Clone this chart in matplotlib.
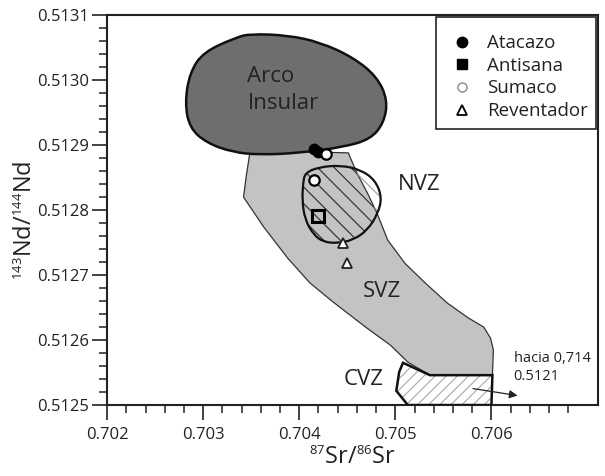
import matplotlib
matplotlib.use('Agg')
import matplotlib.pyplot as plt
import matplotlib._mathtext as mathtext_internal
from matplotlib.patches import Polygon, PathPatch
from matplotlib.path import Path
from matplotlib.lines import Line2D
from matplotlib.ticker import FixedLocator

plt.rcParams['font.family'] = ['Open Sans', 'DejaVu Sans']
plt.rcParams['mathtext.fontset'] = 'custom'
plt.rcParams['mathtext.rm'] = 'Open Sans'
plt.rcParams['mathtext.it'] = 'Open Sans:italic'
plt.rcParams['hatch.linewidth'] = 0.8
# smaller isotope superscripts, like the original figure
mathtext_internal.SHRINK_FACTOR = 0.55

# fields (87Sr/86Sr, 143Nd/144Nd)
arco_sr = [0.70281, 0.70286, 0.70300, 0.70335, 0.70349, 0.70388, 0.70422, 0.70456, 0.70481,
           0.70492, 0.70488, 0.70474, 0.70446, 0.70401, 0.70359, 0.70331, 0.70304, 0.70286]
arco_nd = [0.512965, 0.513011, 0.513043, 0.513066, 0.513071, 0.513069, 0.513058, 0.513035, 0.513005,
           0.512969, 0.512934, 0.512909, 0.512897, 0.512888, 0.512885, 0.512889, 0.512903, 0.512926]

svz_sr = [0.70349, 0.70345, 0.70342, 0.70363, 0.70388, 0.70411, 0.70434, 0.70469, 0.70495, 0.70513, 0.70536,
          0.70601, 0.70602, 0.70599, 0.70592, 0.70576, 0.70554, 0.70531, 0.70510, 0.70492, 0.70481,
          0.70471, 0.70460, 0.70451]
svz_nd = [0.512892, 0.512854, 0.512820, 0.512774, 0.512726, 0.512688, 0.512660, 0.512620, 0.512592, 0.512566, 0.512546,
          0.512546, 0.512585, 0.512603, 0.512620, 0.512634, 0.512657, 0.512688, 0.512718, 0.512754, 0.512795,
          0.512826, 0.512857, 0.512888]

nvz_sr = [0.70406, 0.70420, 0.70443, 0.70464, 0.70479, 0.70486, 0.70482, 0.70471, 0.70456, 0.70440,
          0.70425, 0.70415, 0.70406, 0.70403, 0.70404]
nvz_nd = [0.512857, 0.512866, 0.512869, 0.512862, 0.512846, 0.512820, 0.512795, 0.512769, 0.512754, 0.512749,
          0.512751, 0.512762, 0.512785, 0.512815, 0.512842]

cvz_sr = [0.70508, 0.70536, 0.70601, 0.70600, 0.70513, 0.70501, 0.70504]
cvz_nd = [0.512565, 0.512546, 0.512546, 0.5125, 0.5125, 0.512522, 0.512551]

# samples
atacazo_sr = [0.70415, 0.70420]
atacazo_nd = [0.512894, 0.512889]
antisana_sr = [0.70420]
antisana_nd = [0.512791]
sumaco_sr = [0.70428, 0.70415]
sumaco_nd = [0.512886, 0.512846]
reventador_sr = [0.70446, 0.70450]
reventador_nd = [0.512749, 0.512718]


def smooth_patch(xs, ys, **kw):
    # closed quadratic b-spline through the outline points
    pts = list(zip(xs, ys))
    n = len(pts)
    mids = [((pts[i][0] + pts[(i + 1) % n][0]) / 2, (pts[i][1] + pts[(i + 1) % n][1]) / 2) for i in range(n)]
    verts = [mids[-1]]
    codes = [Path.MOVETO]
    for i in range(n):
        verts += [pts[i], mids[i]]
        codes += [Path.CURVE3, Path.CURVE3]
    verts.append(mids[-1])
    codes.append(Path.CLOSEPOLY)
    return PathPatch(Path(verts, codes), **kw)


fig = plt.figure(figsize=(6.05, 4.76), dpi=100)
ax = fig.add_axes([0.177, 0.149, 0.8116, 0.8193])

tc = '#222222'

svz = Polygon(list(zip(svz_sr, svz_nd)), closed=True, facecolor='#c3c3c3', edgecolor='#333333', lw=0.9, zorder=1)
ax.add_patch(svz)

# NVZ hatch: light outside SVZ, dark inside it
nvz_light = smooth_patch(nvz_sr, nvz_nd, fill=False, hatch='\\\\', edgecolor='#9a9a9a', lw=0, zorder=2)
ax.add_patch(nvz_light)
nvz_dark = smooth_patch(nvz_sr, nvz_nd, fill=False, hatch='\\\\', edgecolor='#333333', lw=0, zorder=2.1)
ax.add_patch(nvz_dark)
nvz_dark.set_clip_path(svz)
ax.add_patch(smooth_patch(nvz_sr, nvz_nd, fill=False, edgecolor='#111111', lw=1.6, zorder=3))

ax.add_patch(Polygon(list(zip(cvz_sr, cvz_nd)), closed=True, facecolor='white', hatch='///',
                     edgecolor='#a8a8a8', lw=0, zorder=2))
ax.add_patch(Polygon(list(zip(cvz_sr, cvz_nd)), closed=True, fill=False, edgecolor='#111111', lw=1.8, zorder=3))

ax.add_patch(smooth_patch(arco_sr, arco_nd, facecolor='#6e6e6e', edgecolor='#111111', lw=1.8, zorder=4))

ax.plot(atacazo_sr, atacazo_nd, 'o', ms=7.5, mfc='black', mec='black', zorder=6)
ax.plot(sumaco_sr, sumaco_nd, 'o', ms=7.5, mfc='white', mec='black', mew=1.6, zorder=7)
ax.plot(antisana_sr, antisana_nd, 's', ms=8, mfc='none', mec='black', mew=2.2, zorder=6)
ax.plot(reventador_sr, reventador_nd, '^', ms=7, mfc='white', mec='#222222', mew=1.3, zorder=6)

ax.text(0.70346, 0.512985, 'Arco\nInsular', fontsize=16, color=tc, ha='left', va='center', linespacing=1.35, zorder=8)
ax.text(0.70503, 0.51284, 'NVZ', fontsize=16, color=tc, ha='left', va='center', zorder=8)
ax.text(0.70466, 0.512674, 'SVZ', fontsize=16, color=tc, ha='left', va='center', zorder=8)
ax.text(0.70446, 0.512539, 'CVZ', fontsize=16, color=tc, ha='left', va='center', zorder=8)
ax.text(0.70623, 0.512558, 'hacia 0,714\n0.5121', fontsize=10.5, color=tc, ha='left', va='center', linespacing=1.3, zorder=8)
ax.annotate('', xy=(0.70630, 0.512514), xytext=(0.70578, 0.512526),
            arrowprops=dict(arrowstyle='-|>', color='#222222', lw=0.9, mutation_scale=12), zorder=8)

handles = [
    Line2D([], [], ls='none', marker='o', ms=7.5, mfc='black', mec='black'),
    Line2D([], [], ls='none', marker='s', ms=7, mfc='black', mec='black'),
    Line2D([], [], ls='none', marker='o', ms=6.5, mfc='white', mec='#888888', mew=1),
    Line2D([], [], ls='none', marker='^', ms=7, mfc='white', mec='black', mew=1.3),
]
leg = ax.legend(handles, ['Atacazo', 'Antisana', 'Sumaco', 'Reventador'], loc='upper right',
                borderaxespad=0.1, fancybox=False, framealpha=1, edgecolor='#222222', fontsize=13.5,
                handlelength=1.85, handletextpad=0.4, labelspacing=0.25, borderpad=0.45,
                title=' ', title_fontsize=3)
leg.get_frame().set_linewidth(1.2)
leg.set_zorder(10)
for t in leg.get_texts():
    t.set_color(tc)

ax.set_xlim(0.702, 0.70711)
ax.set_ylim(0.5125, 0.5131)
ax.xaxis.set_major_locator(FixedLocator([0.702, 0.703, 0.704, 0.705, 0.706]))
ax.xaxis.set_minor_locator(FixedLocator([0.7022, 0.7024, 0.7026, 0.7028, 0.7032, 0.7034, 0.7036, 0.7038,
                                         0.7042, 0.7044, 0.7046, 0.7048, 0.7052, 0.7054, 0.7056, 0.7058,
                                         0.7062, 0.7064, 0.7066, 0.7068]))
ax.yaxis.set_major_locator(FixedLocator([0.5125, 0.5126, 0.5127, 0.5128, 0.5129, 0.5130, 0.5131]))
ax.yaxis.set_minor_locator(FixedLocator([0.51252, 0.51254, 0.51256, 0.51258, 0.51262, 0.51264, 0.51266, 0.51268,
                                         0.51272, 0.51274, 0.51276, 0.51278, 0.51282, 0.51284, 0.51286, 0.51288,
                                         0.51292, 0.51294, 0.51296, 0.51298, 0.51302, 0.51304, 0.51306, 0.51308]))
ax.set_xticklabels(['0.702', '0.703', '0.704', '0.705', '0.706'])
ax.set_yticklabels(['0.5125', '0.5126', '0.5127', '0.5128', '0.5129', '0.5130', '0.5131'])
ax.tick_params(which='major', direction='out', length=11, width=1.2, labelsize=12, colors='#222222')
ax.tick_params(axis='y', which='major', pad=2)
ax.tick_params(axis='x', which='major', pad=5)
ax.tick_params(which='minor', direction='out', length=6, width=1.1, colors='#222222')
for s in ax.spines.values():
    s.set_linewidth(1.5)
    s.set_color('#222222')

ax.set_xlabel('$^{87}$Sr/$^{86}$Sr', fontsize=17, color=tc, labelpad=2)
ax.set_ylabel('$^{143}$Nd/$^{144}$Nd', fontsize=17, color=tc)
ax.yaxis.set_label_coords(-0.14, 0.474)

fig.savefig('out.png', dpi=100)
